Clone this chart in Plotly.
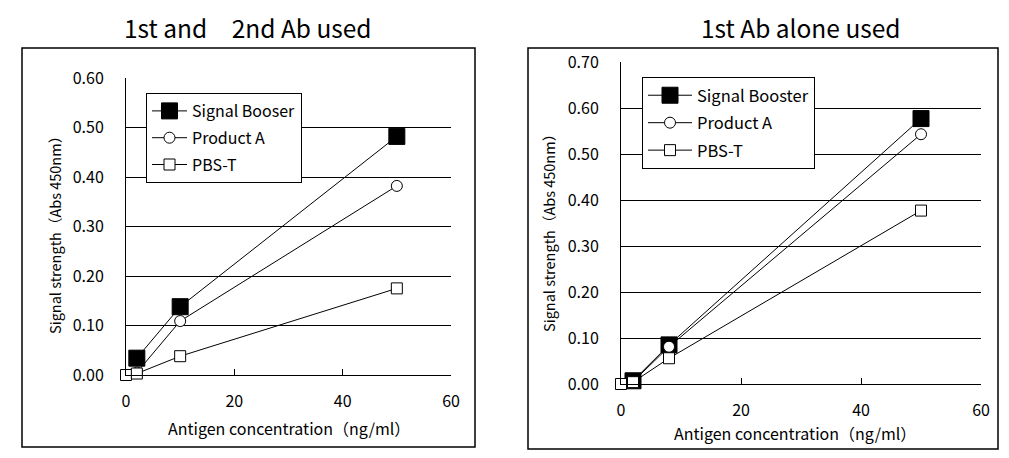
import plotly.graph_objects as go

# ── Data ──────────────────────────────────────────────────────────────────────
SERIES = ["Signal Booser", "Product A", "PBS-T"]
SERIES_R = ["Signal Booster", "Product A", "PBS-T"]

conc_left = [0, 2, 10, 50]
booster_left = [None, 0.034, 0.138, 0.482]
product_a_left = [0.000, 0.005, 0.109, 0.382]
pbst_left = [0.000, 0.003, 0.038, 0.175]

conc_right = [0, 2, 8, 50]
booster_right = [None, 0.007, 0.085, 0.577]
product_a_right = [0.000, 0.005, 0.081, 0.543]
pbst_right = [0.000, 0.004, 0.056, 0.377]

TITLE_LEFT = "1st and\u30002nd Ab used"
TITLE_RIGHT = "1st Ab alone used"
X_TITLE = "Antigen concentration\uff08ng/ml\uff09"
Y_TITLE = "Signal strength\uff08Abs 450nm\uff09"

FONT = "Noto Sans CJK JP"
W, H = 1009, 458
OFF = 8  # page body margin

MARKERS = [
    dict(symbol="square", size=16, color="black", line=dict(color="black", width=1)),
    dict(symbol="circle", size=11, color="white", line=dict(color="black", width=1)),
    dict(symbol="square", size=11, color="white", line=dict(color="black", width=1)),
]

fig = go.Figure()

panels = [
    (conc_left, [booster_left, product_a_left, pbst_left], SERIES, "x", "y", "legend"),
    (conc_right, [booster_right, product_a_right, pbst_right], SERIES_R, "x2", "y2", "legend2"),
]
for xs, ys_list, names, xa, ya, leg in panels:
    for i, (ys, name) in enumerate(zip(ys_list, names)):
        fig.add_trace(go.Scatter(
            x=xs, y=ys, name=name, mode="lines+markers",
            line=dict(color="black", width=1),
            marker=MARKERS[i],
            xaxis=xa, yaxis=ya, legend=leg,
            legendgroup=f"{leg}_{i}",
            cliponaxis=False,
        ))


def px_x(p):
    return (p - OFF) / W


def px_y(p):
    return 1 - (p - OFF) / H


axis_common = dict(
    showline=True, linecolor="black", linewidth=1,
    ticks="inside", ticklen=6, tickcolor="black",
    tickfont=dict(family=FONT, size=16, color="black"),
    showgrid=False, zeroline=False, automargin=False,
)

fig.update_layout(
    width=W, height=H,
    autosize=False,
    margin=dict(l=0, r=0, t=0, b=0, pad=0, autoexpand=False),
    paper_bgcolor="white", plot_bgcolor="white",
    font=dict(family=FONT, size=16, color="black"),
    showlegend=True,
    xaxis=dict(domain=[px_x(126), px_x(451)], range=[0, 60], dtick=20,
               anchor="y", ticklabelstandoff=12, **axis_common),
    yaxis=dict(domain=[px_y(375), px_y(78)], range=[0, 0.6], dtick=0.1,
               tickformat=".2f", anchor="x", ticklabelstandoff=18,
               minor=dict(tickvals=[0.1, 0.2, 0.3, 0.4, 0.5], showgrid=True,
                          gridcolor="black", gridwidth=1, ticks=""),
               **axis_common),
    xaxis2=dict(domain=[px_x(621), px_x(981)], range=[0, 60], dtick=20,
                anchor="y2", ticklabelstandoff=12, **axis_common),
    yaxis2=dict(domain=[px_y(384), px_y(62)], range=[0, 0.7], dtick=0.1,
                tickformat=".2f", anchor="x2", ticklabelstandoff=18,
                minor=dict(tickvals=[0.1, 0.2, 0.3, 0.4, 0.5, 0.6], showgrid=True,
                           gridcolor="black", gridwidth=1, ticks=""),
                **axis_common),
    legend=dict(x=px_x(146), y=px_y(93), xanchor="left", yanchor="top",
                bgcolor="white", bordercolor="black", borderwidth=1,
                font=dict(family=FONT, size=16, color="black"),
                tracegroupgap=3, traceorder="grouped", itemwidth=35),
    legend2=dict(x=px_x(642), y=px_y(77), xanchor="left", yanchor="top",
                 bgcolor="white", bordercolor="black", borderwidth=1,
                 font=dict(family=FONT, size=16.5, color="black"),
                 tracegroupgap=3, traceorder="grouped", itemwidth=44),
)

# Panel frames
for x0, y0, x1, y1 in [(22, 48, 475, 447), (528, 48, 998, 449)]:
    fig.add_shape(type="rect", xref="paper", yref="paper",
                  x0=px_x(x0), x1=px_x(x1), y0=px_y(y1), y1=px_y(y0),
                  line=dict(color="black", width=1.5), layer="below")

# Titles and axis titles
texts = [
    (248, 27, TITLE_LEFT, 24.5, 0),
    (800, 27, TITLE_RIGHT, 24.5, 0),
    (289, 428, X_TITLE, 16, 0),
    (795, 433, X_TITLE, 16, 0),
    (54, 232, Y_TITLE, 14.5, -90),
    (548, 230, Y_TITLE, 14.5, -90),
]
for x, y, t, s, ang in texts:
    fig.add_annotation(x=px_x(x), y=px_y(y), xref="paper", yref="paper",
                       text=t, showarrow=False, textangle=ang,
                       xanchor="center", yanchor="middle",
                       font=dict(family=FONT, size=s, color="black"))

fig.write_html("out.html")
